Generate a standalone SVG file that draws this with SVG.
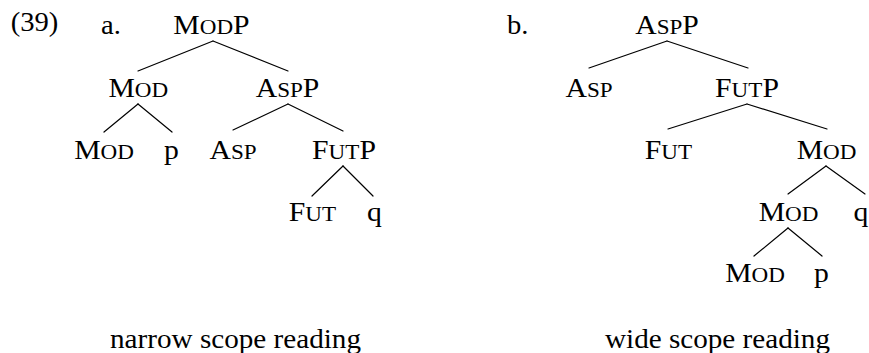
<svg xmlns="http://www.w3.org/2000/svg" width="869" height="353" viewBox="0 0 869 353">
<style>
  rect.bg { fill: #ffffff; }
  text { font-family: "Liberation Serif", "Times New Roman", serif; font-size: 27px; fill: #000000; text-anchor: middle; }
  text.start { text-anchor: start; }
  .sc { font-size: 21px; }
  #connectors line { stroke: #000000; stroke-width: 1.2; stroke-linecap: round; fill: none; }
</style>
<rect class="bg" x="0" y="0" width="869" height="353"/>

<g id="example-number" transform="translate(34.5,31) scale(1.06,1)"><text>(39)</text></g>
<g id="label-a" transform="translate(101,34) scale(1.06,1)"><text class="start">a.</text></g>
<g id="label-b" transform="translate(507,34) scale(1.06,1)"><text class="start">b.</text></g>

<g id="a-modp" transform="translate(211.5,34) scale(1.1,1)"><text>M<tspan class="sc">OD</tspan>P</text></g>
<g id="a-mod1" transform="translate(138.3,96.5) scale(1.1,1)"><text>M<tspan class="sc">OD</tspan></text></g>
<g id="a-aspp" transform="translate(287.5,96.5) scale(1.1,1)"><text>A<tspan class="sc">SP</tspan>P</text></g>
<g id="a-mod2" transform="translate(104,159) scale(1.1,1)"><text>M<tspan class="sc">OD</tspan></text></g>
<g id="a-p" transform="translate(171.5,159) scale(1.1,1)"><text>p</text></g>
<g id="a-asp" transform="translate(233,159) scale(1.1,1)"><text>A<tspan class="sc">SP</tspan></text></g>
<g id="a-futp" transform="translate(344,159) scale(1.1,1)"><text>F<tspan class="sc">UT</tspan>P</text></g>
<g id="a-fut" transform="translate(312.5,221) scale(1.1,1)"><text>F<tspan class="sc">UT</tspan></text></g>
<g id="a-q" transform="translate(374.5,221) scale(1.1,1)"><text>q</text></g>

<g id="b-aspp" transform="translate(667,34) scale(1.1,1)"><text>A<tspan class="sc">SP</tspan>P</text></g>
<g id="b-asp" transform="translate(589,96.5) scale(1.1,1)"><text>A<tspan class="sc">SP</tspan></text></g>
<g id="b-futp" transform="translate(747,96.5) scale(1.1,1)"><text>F<tspan class="sc">UT</tspan>P</text></g>
<g id="b-fut" transform="translate(668.5,158.5) scale(1.1,1)"><text>F<tspan class="sc">UT</tspan></text></g>
<g id="b-mod1" transform="translate(826.5,158.5) scale(1.1,1)"><text>M<tspan class="sc">OD</tspan></text></g>
<g id="b-mod2" transform="translate(788.5,221) scale(1.1,1)"><text>M<tspan class="sc">OD</tspan></text></g>
<g id="b-q" transform="translate(861,221) scale(1.1,1)"><text>q</text></g>
<g id="b-mod3" transform="translate(755,282) scale(1.1,1)"><text>M<tspan class="sc">OD</tspan></text></g>
<g id="b-p" transform="translate(821.5,282) scale(1.1,1)"><text>p</text></g>

<g id="caption-a" transform="translate(235.5,348) scale(1.08,1)"><text>narrow scope reading</text></g>
<g id="caption-b" transform="translate(717.5,348) scale(1.08,1)"><text>wide scope reading</text></g>

<g id="connectors">
  <line x1="213" y1="41" x2="138" y2="71"/>
  <line x1="213" y1="41" x2="288" y2="71"/>
  <line x1="138" y1="104" x2="104" y2="132"/>
  <line x1="138" y1="104" x2="172" y2="132"/>
  <line x1="288" y1="104" x2="233" y2="130"/>
  <line x1="288" y1="104" x2="343" y2="131"/>
  <line x1="343" y1="166" x2="312" y2="196"/>
  <line x1="343" y1="166" x2="373" y2="196"/>

  <line x1="667" y1="41" x2="589" y2="68"/>
  <line x1="667" y1="41" x2="748" y2="68"/>
  <line x1="747" y1="104" x2="668" y2="129"/>
  <line x1="747" y1="104" x2="827" y2="129"/>
  <line x1="826" y1="166" x2="788" y2="194"/>
  <line x1="826" y1="166" x2="865" y2="194"/>
  <line x1="788" y1="228" x2="754" y2="256"/>
  <line x1="788" y1="228" x2="822" y2="256"/>
</g>
</svg>
